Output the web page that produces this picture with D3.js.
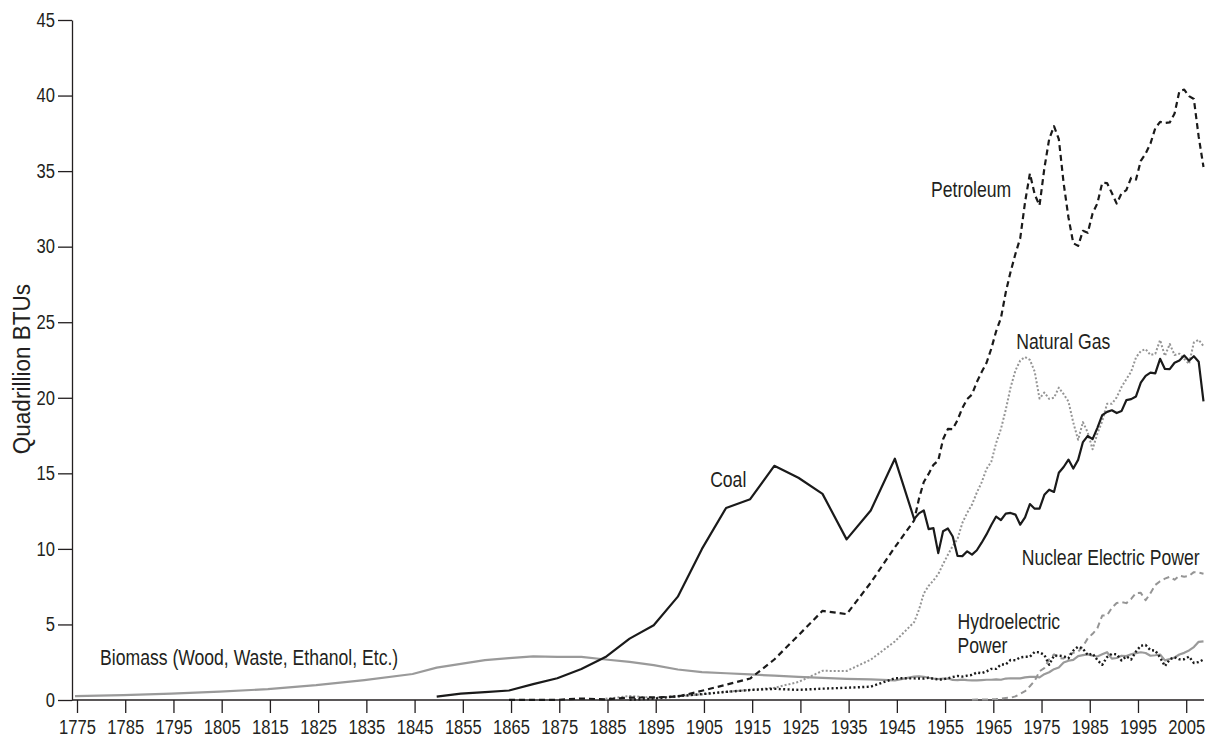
<!DOCTYPE html>
<html>
<head>
<meta charset="utf-8">
<script src="https://cdn.jsdelivr.net/npm/d3@7"></script>
<style>
  html, body { margin: 0; padding: 0; background: #fff; }
  svg { display: block; }
  text { font-family: "Liberation Sans", Arial, Helvetica, sans-serif; fill: #231f20; }
</style>
</head>
<body>
<svg id="chart" width="1217" height="738"></svg>
<script>
// ---------- DATA ----------
const years = [
  1775,1785,1795,1805,1815,1825,1835,1845,
  1850,1855,1860,1865,1870,1875,1880,1885,1890,1895,
  1900,1905,1910,1915,1920,1925,1930,1935,1940,1945,
  1949,1950,1951,1952,1953,1954,1955,1956,1957,1958,
  1959,1960,1961,1962,1963,1964,1965,1966,1967,1968,
  1969,1970,1971,1972,1973,1974,1975,1976,1977,1978,
  1979,1980,1981,1982,1983,1984,1985,1986,1987,1988,
  1989,1990,1991,1992,1993,1994,1995,1996,1997,1998,
  1999,2000,2001,2002,2003,2004,2005,2006,2007,2008,
  2009
];

const biomass = [
  0.25,0.32,0.42,0.55,0.72,0.98,1.32,1.72,
  2.14,2.39,2.64,2.77,2.89,2.85,2.85,2.68,2.52,2.31,
  2.02,1.84,1.77,1.69,1.61,1.53,1.46,1.40,1.36,1.30,
  1.55,1.56,1.54,1.47,1.42,1.39,1.42,1.42,1.33,1.32,
  1.35,1.32,1.30,1.30,1.32,1.34,1.34,1.37,1.34,1.42,
  1.44,1.43,1.43,1.50,1.53,1.54,1.50,1.71,1.84,2.04,
  2.15,2.48,2.60,2.66,2.90,2.97,3.02,2.93,2.88,3.02,
  3.16,2.74,2.78,2.93,2.91,3.03,3.10,3.16,3.11,2.93,
  2.96,3.01,2.62,2.71,2.81,3.01,3.12,3.28,3.50,3.85,
  3.88
];

const coal = [
  null,null,null,null,null,null,null,null,
  0.22,0.42,0.52,0.63,1.05,1.44,2.05,2.84,4.06,4.95,
  6.84,10.00,12.71,13.29,15.50,14.71,13.64,10.63,12.54,15.97,
  11.98,12.35,12.55,11.31,11.37,9.72,11.17,11.35,10.82,9.53,
  9.52,9.84,9.62,9.91,10.41,10.96,11.58,12.14,11.91,12.33,
  12.38,12.27,11.60,12.08,12.97,12.66,12.66,13.58,13.92,13.77,
  15.04,15.42,15.91,15.32,15.89,17.07,17.48,17.26,18.01,18.85,
  19.07,19.17,18.99,19.12,19.84,19.91,20.09,21.00,21.45,21.66,
  21.62,22.58,21.91,21.90,22.32,22.47,22.80,22.45,22.75,22.39,
  19.76
];

const petroleum = [
  null,null,null,null,null,null,null,null,
  null,null,null,0.01,0.01,0.01,0.10,0.04,0.16,0.17,
  0.23,0.61,1.01,1.42,2.68,4.28,5.90,5.68,7.76,10.11,
  11.88,13.32,14.43,14.96,15.56,15.84,17.26,17.94,17.93,18.53,
  19.32,19.92,20.22,21.05,21.70,22.30,23.25,24.40,25.28,26.98,
  28.34,29.52,30.56,32.95,34.84,33.46,32.73,35.18,37.12,37.97,
  37.12,34.20,31.93,30.23,30.05,31.05,30.92,32.20,32.87,34.22,
  34.21,33.55,32.85,33.53,33.74,34.56,34.44,35.68,36.16,36.82,
  37.84,38.26,38.19,38.22,38.81,40.29,40.39,39.96,39.77,37.28,
  35.27
];

const naturalGas = [
  null,null,null,null,null,null,null,null,
  null,null,null,null,null,null,null,0.08,0.26,0.15,
  0.25,0.37,0.54,0.67,0.81,1.19,1.93,1.92,2.67,3.87,
  5.15,5.97,7.05,7.55,7.91,8.33,9.00,9.61,10.19,10.66,
  11.72,12.39,12.93,13.73,14.40,15.29,15.77,17.00,17.94,19.21,
  20.68,21.80,22.47,22.70,22.51,21.73,19.95,20.35,19.93,20.00,
  20.67,20.24,19.75,18.36,17.22,18.39,17.70,16.59,17.64,18.45,
  19.60,19.60,20.03,20.71,21.23,21.73,22.67,23.09,23.22,22.83,
  22.91,23.82,22.77,23.56,22.83,22.92,22.57,22.24,23.66,23.84,
  23.42
];

const hydro = [
  null,null,null,null,null,null,null,null,
  null,null,null,null,null,null,null,null,0.02,0.09,
  0.25,0.39,0.54,0.66,0.74,0.67,0.75,0.81,0.88,1.44,
  1.43,1.42,1.42,1.47,1.41,1.36,1.36,1.44,1.52,1.59,
  1.55,1.61,1.66,1.82,1.77,1.89,2.06,2.06,2.35,2.35,
  2.65,2.63,2.82,2.86,2.86,3.18,3.16,2.98,2.33,2.94,
  2.93,2.90,2.76,3.27,3.53,3.39,2.97,3.07,2.64,2.33,
  2.84,3.05,3.02,2.62,2.89,2.68,3.21,3.59,3.64,3.30,
  3.27,2.81,2.24,2.69,2.83,2.69,2.70,2.87,2.45,2.51,
  2.68
];

const nuclear = [
  null,null,null,null,null,null,null,null,
  null,null,null,null,null,null,null,null,null,null,
  null,null,null,null,null,null,null,null,null,null,
  null,null,null,null,null,null,null,null,null,null,
  null,null,0.02,0.03,0.04,0.04,0.04,0.06,0.09,0.14,
  0.15,0.24,0.41,0.58,0.91,1.27,1.90,2.11,2.70,3.02,
  2.78,2.74,3.01,3.13,3.20,3.55,4.08,4.38,4.75,5.59,
  5.60,6.10,6.42,6.48,6.41,6.69,7.08,7.09,6.60,7.07,
  7.61,7.86,8.03,8.15,7.96,8.22,8.16,8.21,8.46,8.43,
  8.35
];

const xTicks = [1775,1785,1795,1805,1815,1825,1835,1845,1855,1865,1875,1885,1895,1905,1915,1925,1935,1945,1955,1965,1975,1985,1995,2005];
const yTicks = [0,5,10,15,20,25,30,35,40,45];

const yTitle = "Quadrillion BTUs";
// label text and anchor in data units [year, value]
const labels = [
  { lines: ["Petroleum"], at: [1952.5, 33.3] },
  { lines: ["Natural Gas"], at: [1970.2, 23.2] },
  { lines: ["Coal"], at: [1906.7, 14.1] },
  { lines: ["Nuclear Electric Power"], at: [1971.3, 8.93] },
  { lines: ["Hydroelectric", "Power"], at: [1958.0, 4.70] },
  { lines: ["Biomass (Wood, Waste, Ethanol, Etc.)"], at: [1780.2, 2.32] }
];

// ---------- CHART ----------
const svg = d3.select("#chart");
const x = d3.scaleLinear().domain([1775, 2009]).range([75, 1203.5]);
const y = d3.scaleLinear().domain([0, 45]).range([700, 20]);
const axisX0 = 72;

// condensed look: squeeze each text horizontally about its own anchor point
function condense(sel, r) {
  sel.each(function () {
    const el = d3.select(this);
    const ax = +el.attr("x") || 0;
    el.attr("x", ax / r).attr("transform", `scale(${r},1)`);
  });
}

// Y axis
const gy = svg.append("g").attr("transform", `translate(${axisX0},0)`)
  .call(d3.axisLeft(y).tickValues(yTicks).tickSize(14).tickPadding(3).tickSizeOuter(0));
gy.select(".domain").attr("stroke", "#231f20").attr("stroke-width", 1.3);
gy.selectAll(".tick line").attr("stroke", "#231f20").attr("stroke-width", 1.3);
gy.selectAll(".tick text").style("font-size", "19.5px").attr("fill", "#231f20").call(condense, 0.85);

// X axis (ticks sit ~2px right of the data positions in the reference)
const gx = svg.append("g").attr("transform", `translate(2,${y(0)})`)
  .call(d3.axisBottom(x).tickValues(xTicks).tickFormat(d3.format("d")).tickSize(13).tickPadding(7).tickSizeOuter(0));
gx.select(".domain").remove();
gx.selectAll(".tick line").attr("stroke", "#231f20").attr("stroke-width", 1.3);
gx.selectAll(".tick text").style("font-size", "19.5px").attr("fill", "#231f20").call(condense, 0.85);
svg.append("line")
  .attr("x1", axisX0).attr("x2", x(2009) + 0.5)
  .attr("y1", y(0)).attr("y2", y(0))
  .attr("stroke", "#231f20").attr("stroke-width", 1.3);

// Y title
svg.append("text")
  .attr("transform", `translate(22,${y(21.9)}) rotate(-90) scale(0.96,1)`)
  .attr("text-anchor", "middle")
  .attr("dominant-baseline", "central")
  .style("font-size", "23.5px")
  .text(yTitle);

// Lines
const series = [
  { values: biomass,    color: "#9a9a9a", width: 2.2, dash: null },
  { values: nuclear,    color: "#959595", width: 2.0, dash: "6,4" },
  { values: naturalGas, color: "#959595", width: 2.0, dash: "2,2" },
  { values: hydro,      color: "#1a1a1a", width: 2.4, dash: "2,2.4" },
  { values: petroleum,  color: "#1a1a1a", width: 2.2, dash: "6,4" },
  { values: coal,       color: "#1a1a1a", width: 2.2, dash: null }
];
const line = d3.line()
  .defined(d => d.v != null)
  .x(d => x(d.yr))
  .y(d => y(d.v));

series.forEach(s => {
  const pts = years.map((yr, i) => ({ yr, v: s.values[i] }));
  svg.append("path")
    .datum(pts)
    .attr("d", line)
    .attr("fill", "none")
    .attr("stroke", s.color)
    .attr("stroke-width", s.width)
    .attr("stroke-linejoin", "round")
    .attr("stroke-dasharray", s.dash);
});

// Labels
labels.forEach(l => {
  l.lines.forEach((ln, i) => {
    svg.append("text")
      .attr("x", x(l.at[0]))
      .attr("y", y(l.at[1]) + i * 23.6)
      .style("font-size", "22px")
      .text(ln)
      .call(condense, 0.80);
  });
});
</script>
</body>
</html>
